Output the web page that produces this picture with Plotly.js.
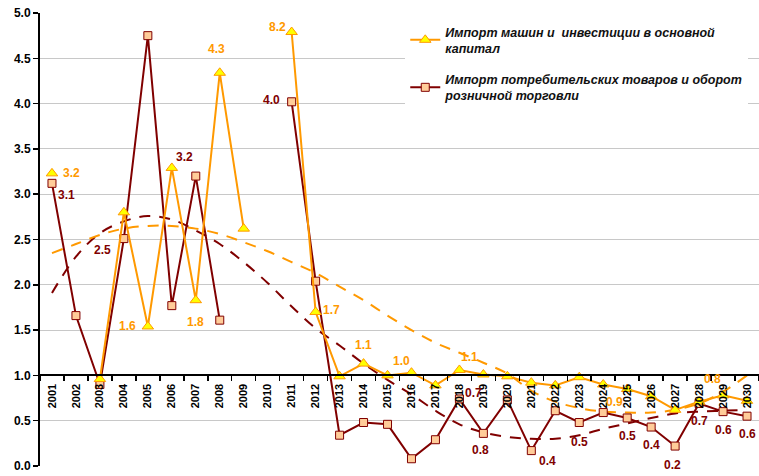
<!DOCTYPE html>
<html>
<head>
<meta charset="utf-8">
<script src="https://cdn.plot.ly/plotly-3.0.1.min.js"></script>
<style>html,body{margin:0;padding:0;background:#fff;}#chart{width:759px;height:476px;}</style>
</head>
<body>
<div id="chart"></div>
<script>
const years = ['2001','2002','2003','2004','2005','2006','2007','2008','2009','2010',
               '2011','2012','2013','2014','2015','2016','2017','2018','2019','2020',
               '2021','2022','2023','2024','2025','2026','2027','2028','2029','2030'];

const seriesNames = [
  'Импорт машин и \u00A0инвестиции в основной<br>капитал',
  'Импорт потребительских товаров и оборот<br>розничной торговли'
];

// Imports of machinery vs fixed investment (plotted values)
const machImport = [3.23, null, 0.96, 2.80, 1.54, 3.29, 1.83, 4.34, 2.62, null,
                    4.79, 1.70, 0.99, 1.13, 1.00, 1.03, 0.89, 1.06, 1.01, 0.99,
                    0.92, 0.89, 0.98, 0.90, 0.85, 0.77, 0.62, 0.71, 0.78, 0.72];
const machLabels = ['3.2', null, null, null, '1.6', null, '1.8', '4.3', null, null,
                    '8.2', '1.7', null, '1.1', null, '1.0', null, '1.1', null, null,
                    null, null, null, '0.9', null, null, null, null, '0.8', null];
const machTrend  = [2.35, 2.45, 2.55, 2.62, 2.65, 2.65, 2.62, 2.56, 2.47, 2.37,
                    2.25, 2.13, 1.98, 1.83, 1.66, 1.50, 1.36, 1.25, 1.14, 1.02,
                    0.83, 0.71, 0.64, 0.60, 0.59, 0.59, 0.62, 0.69, 0.82, 1.00];

// Imports of consumer goods vs retail turnover
const consImport = [3.12, 1.66, 0.90, 2.51, 4.75, 1.77, 3.20, 1.61, null, null,
                    4.02, 2.04, 0.34, 0.48, 0.46, 0.08, 0.29, 0.74, 0.36, 0.73,
                    0.17, 0.61, 0.48, 0.59, 0.53, 0.43, 0.22, 0.69, 0.60, 0.55];
const consLabels = ['3.1', null, null, '2.5', null, null, '3.2', null, null, null,
                    '4.0', null, null, null, null, null, null, '0.7', '0.8', null,
                    '0.4', null, '0.5', null, '0.5', '0.4', '0.2', '0.7', '0.6', '0.6'];
const consTrend  = [1.91, 2.31, 2.57, 2.70, 2.76, 2.72, 2.60, 2.45, 2.25, 2.02,
                    1.76, 1.52, 1.33, 1.13, 0.95, 0.79, 0.61, 0.46, 0.37, 0.32,
                    0.30, 0.30, 0.34, 0.41, 0.47, 0.53, 0.58, 0.60, 0.61, 0.62];

// label pixel offsets (style): [dx, dy] screen pixels
const machOff = {'2001':[20,0],'2005':[-20,0],'2007':[0,22],'2008':[-3,-24],'2011':[-14,-5],
                 '2012':[16,-2],'2014':[0,-19],'2016':[-10,-12],'2018':[10,-13],'2024':[11,18],'2029':[-11,-16]};
const consOff = {'2001':[15,12],'2004':[-21,11],'2007':[-11,-19],'2011':[-20,-2],'2018':[14,-6],
                 '2019':[-3,17],'2021':[16,10],'2023':[0,19],'2025':[0,18],'2026':[0,18],
                 '2027':[-3,19],'2028':[0,18],'2029':[0,18],'2030':[0,18]};

const ORANGE = '#FF9900';
const DARKRED = '#800000';
const FONT = 'Arial, "Liberation Sans", sans-serif';

const traces = [
  {x: years, y: consTrend, type: 'scatter', mode: 'lines', showlegend: false, hoverinfo: 'skip',
   line: {color: DARKRED, width: 2, dash: '11px,9px', shape: 'spline'}},
  {x: years, y: machTrend, type: 'scatter', mode: 'lines', showlegend: false, hoverinfo: 'skip',
   line: {color: ORANGE, width: 2, dash: '11px,9px', shape: 'spline'}},
  {x: years, y: consImport, type: 'scatter', mode: 'lines+markers', name: seriesNames[1], legendrank: 2,
   legendgroup: 'b',
   line: {color: DARKRED, width: 2},
   marker: {symbol: 'square', size: 8, color: '#FFCC99', line: {color: DARKRED, width: 1}}},
  {x: years, y: machImport, type: 'scatter', mode: 'lines+markers', name: seriesNames[0], legendrank: 1,
   legendgroup: 'a',
   line: {color: ORANGE, width: 2},
   marker: {symbol: 'triangle-up', size: 10, color: '#FFFF00', line: {color: ORANGE, width: 1}}}
];

const annotations = [];
function addLabels(vals, labels, offs, color) {
  for (let i = 0; i < years.length; i++) {
    if (labels[i] == null || vals[i] == null) continue;
    const o = offs[years[i]] || [0, -15];
    annotations.push({x: i, y: vals[i], xref: 'x', yref: 'y', text: '<b>' + labels[i] + '</b>',
      showarrow: false, xshift: o[0], yshift: -o[1],
      font: {family: FONT, size: 12, color: color}});
  }
}
addLabels(machImport, machLabels, machOff, ORANGE);
addLabels(consImport, consLabels, consOff, DARKRED);

const layout = {
  width: 759, height: 476,
  margin: {l: 40, r: 0, t: 13, b: 10, pad: 0},
  paper_bgcolor: '#ffffff', plot_bgcolor: '#ffffff',
  showlegend: true,
  legend: {x: 0.508, xanchor: 'left', y: 0.991, yanchor: 'top', bgcolor: '#ffffff', borderwidth: 0,
           traceorder: 'grouped', tracegroupgap: 12,
           font: {family: FONT, size: 12.5, color: '#111111', weight: 700, style: 'italic'}},
  xaxis: {type: 'category', anchor: 'free', position: 0.2, range: [-0.5, 29.5],
          showgrid: false, zeroline: false, showline: true, linecolor: '#000000', linewidth: 2,
          ticks: 'outside', tickson: 'boundaries', ticklen: 5, tickwidth: 1.5, tickcolor: '#000000',
          tickangle: -90, automargin: false, ticklabelstandoff: 3,
          tickprefix: '<b>', ticksuffix: '</b>',
          tickfont: {family: FONT, size: 11, color: '#000000'}},
  yaxis: {range: [0, 5], dtick: 0.5, tick0: 0, tickformat: '.1f', zeroline: false,
          showgrid: true, gridcolor: '#C8C8C8', gridwidth: 1,
          showline: true, linecolor: '#000000', linewidth: 2,
          ticks: 'outside', ticklen: 5, tickwidth: 1.5, tickcolor: '#000000', automargin: false,
          tickprefix: '<b>', ticksuffix: '</b>',
          tickfont: {family: FONT, size: 12, color: '#000000'}},
  annotations: annotations
};

Plotly.newPlot('chart', traces, layout, {displayModeBar: false, staticPlot: true});
</script>
</body>
</html>
